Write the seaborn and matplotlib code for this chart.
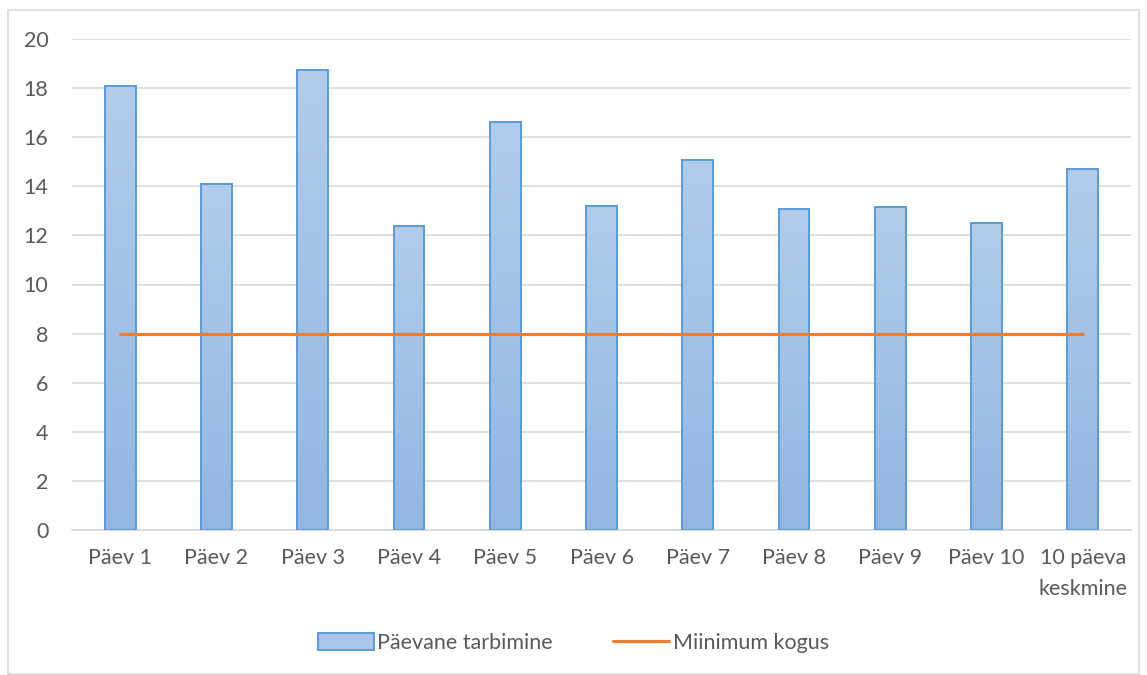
import numpy as np
import pandas as pd
import matplotlib
matplotlib.use("Agg")
import matplotlib.pyplot as plt
import seaborn as sns
from matplotlib.patches import Patch, Rectangle
from matplotlib.lines import Line2D
from matplotlib.colors import LinearSegmentedColormap

# data
categories = ["Päev 1", "Päev 2", "Päev 3", "Päev 4", "Päev 5", "Päev 6",
              "Päev 7", "Päev 8", "Päev 9", "Päev 10", "10 päeva\nkeskmine"]
daily_use = [18.07, 14.11, 18.74, 12.38, 16.63, 13.21, 15.07, 13.06, 13.16, 12.49, 14.69]
minimum_amount = [8, 8, 8, 8, 8, 8, 8, 8, 8, 8, 8]
y_ticks = [0, 2, 4, 6, 8, 10, 12, 14, 16, 18, 20]

bar_label = "Päevane tarbimine"
line_label = "Miinimum kogus"

sns.set_style("white")
plt.rcParams["font.family"] = ["Lato", "DejaVu Sans"]
text_color = "#595959"
grid_color = "#D9D9D9"
edge_color = "#5B9BD5"
line_color = "#ED7D31"
fsize = 15.5

df = pd.DataFrame({"day": categories, "value": daily_use})

fig = plt.figure(figsize=(11.47, 6.75), dpi=100)
ax = fig.add_axes([72 / 1147, 1 - 530 / 675, (1131 - 72) / 1147, (530 - 39) / 675])

sns.barplot(data=df, x="day", y="value", order=categories, width=0.32,
            color="#A9C6E8", ax=ax, zorder=2)

# Excel-like vertical gradient on each bar
cmap = LinearSegmentedColormap.from_list("bargrad", ["#92B6E2", "#B2CCEA"])
grad = np.linspace(0, 1, 256).reshape(-1, 1)
for p in ax.patches:
    x0, w, h = p.get_x(), p.get_width(), p.get_height()
    im = ax.imshow(grad, cmap=cmap, origin="lower", aspect="auto",
                   extent=[x0, x0 + w, 0, h], zorder=2)
    im.set_clip_path(p)
    p.set_facecolor("none")
    p.set_edgecolor(edge_color)
    p.set_linewidth(1.4)
    p.set_zorder(3)

sns.lineplot(x=np.arange(len(categories)), y=minimum_amount, color=line_color,
             linewidth=2.3, ax=ax, zorder=4)

ax.set_xlim(-0.5, len(categories) - 0.5)
ax.set_ylim(0, 20)
ax.set_yticks(y_ticks)
ax.set_xticks(range(len(categories)))
ax.set_xticklabels(categories, linespacing=1.7)
ax.set_xlabel("")
ax.set_ylabel("")
ax.yaxis.grid(True, color=grid_color, linewidth=1.2)
ax.set_axisbelow(True)
for s in ["top", "right", "left"]:
    ax.spines[s].set_visible(False)
ax.spines["bottom"].set_color(grid_color)
ax.spines["bottom"].set_linewidth(1.2)
ax.tick_params(axis="both", length=0, labelsize=fsize, colors=text_color)
ax.tick_params(axis="y", pad=17)
ax.tick_params(axis="x", pad=13)

handles = [Patch(facecolor="#A9C6E8", edgecolor=edge_color, linewidth=1.4),
           Line2D([0], [0], color=line_color, linewidth=2.3)]
fig.legend(handles, [bar_label, line_label], loc="center",
           bbox_to_anchor=(0.5, 1 - 643 / 675), ncol=2, frameon=False,
           fontsize=fsize, labelcolor=text_color, handlelength=2.6,
           handleheight=0.8, handletextpad=0.15, columnspacing=2.8)

# outer chart border
fig.add_artist(Rectangle((8 / 1147, 1 - 674 / 675), (1139 - 8) / 1147, (674 - 10) / 675,
                         transform=fig.transFigure, fill=False,
                         edgecolor=grid_color, linewidth=1.2))

fig.savefig("out.png", dpi=100)
